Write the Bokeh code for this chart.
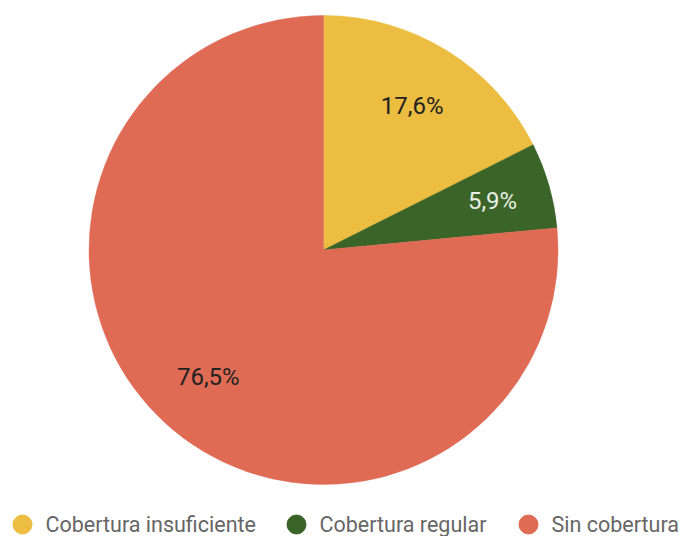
import math
from bokeh.plotting import figure
from bokeh.models import Range1d, ColumnDataSource
from bokeh.core.properties import value
from bokeh.embed import file_html
from bokeh.resources import INLINE

categories = ["Cobertura insuficiente", "Cobertura regular", "Sin cobertura"]
percentages = [17.6, 5.9, 76.5]
colors = ["#ECBD41", "#3B6428", "#E06B55"]
label_colors = ["#222222", "#E8EFE4", "#222222"]
labels = ["17,6%", "5,9%", "76,5%"]

W, H = 679, 536
p = figure(width=W, height=H, output_backend="svg", toolbar_location=None,
           x_range=Range1d(0, W), y_range=Range1d(-H, 0),
           min_border=0, outline_line_color=None)
p.axis.visible = False
p.grid.visible = False
p.background_fill_color = "white"
p.border_fill_color = "white"

cx, cy, r = 323, -249.5, 234.5
total = sum(percentages)
starts, ends, mids = [], [], []
a = math.pi / 2
for v in percentages:
    sweep = v / total * 2 * math.pi
    ends.append(a)
    starts.append(a - sweep)
    mids.append(a - sweep / 2)
    a -= sweep

src = ColumnDataSource(dict(start=starts, end=ends, color=colors))
p.wedge(x=cx, y=cy, radius=r, start_angle="start", end_angle="end",
        fill_color="color", line_color="color", line_width=0.5, source=src)

lr = [0.72, 0.75, 0.73]
lx = [cx + f * r * math.cos(m) for f, m in zip(lr, mids)]
ly = [cy + f * r * math.sin(m) for f, m in zip(lr, mids)]
p.text(x=lx, y=ly, text=labels, text_color=label_colors,
       text_font=value("Roboto"), text_font_size="24px",
       text_align="center", text_baseline="middle")

# legend
leg_x = [22, 296, 528]
leg_y = [-524] * 3
p.scatter(x=leg_x, y=leg_y, size=19, fill_color=colors, line_color=colors, marker="circle")
p.text(x=[x + 23 for x in leg_x], y=leg_y, text=categories, text_color="#666666",
       text_font=value("Roboto"), text_font_size="21.5px",
       text_align="left", text_baseline="middle")

open("out.html", "w").write(file_html(p, INLINE))
